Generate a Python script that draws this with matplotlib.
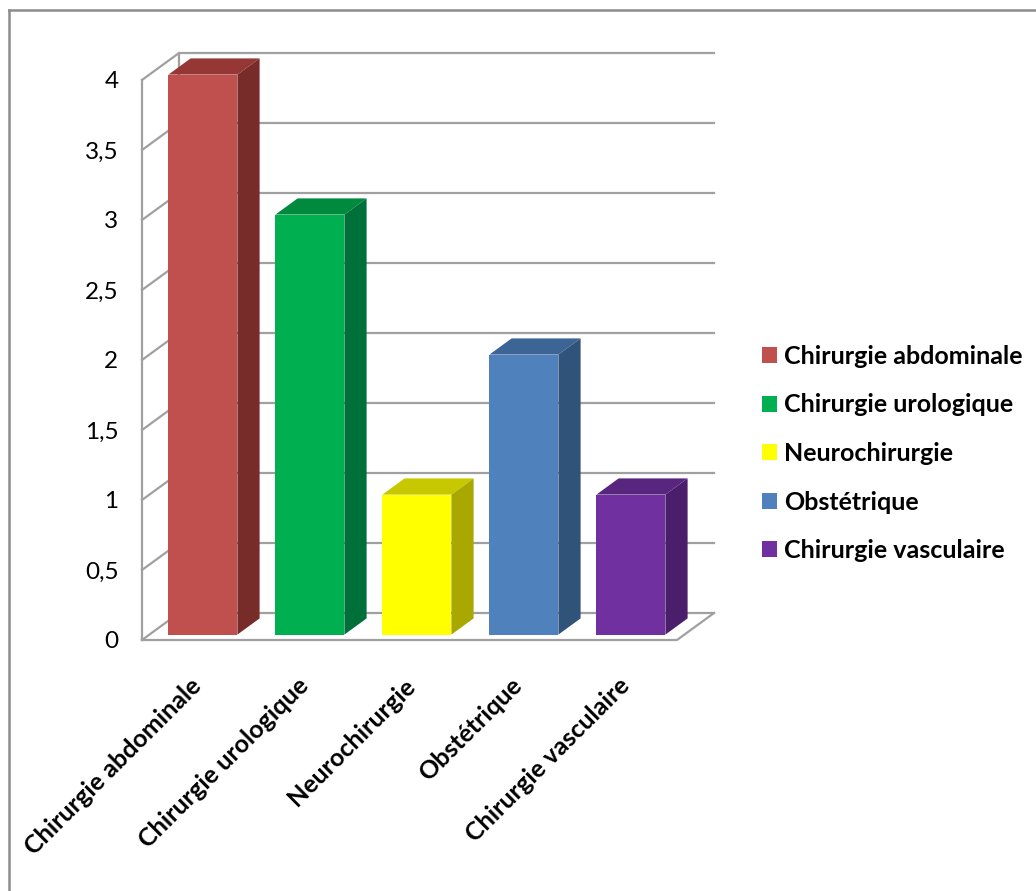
import matplotlib.pyplot as plt
from matplotlib.patches import Polygon, Patch
from matplotlib.lines import Line2D

plt.rcParams['font.family'] = ['Lato', 'DejaVu Sans']

# Chart data
categories = ['Chirurgie abdominale', 'Chirurgie urologique', 'Neurochirurgie',
              'Obstétrique', 'Chirurgie vasculaire']
values = [4, 3, 1, 2, 1]
y_ticks = [0, 0.5, 1, 1.5, 2, 2.5, 3, 3.5, 4]
y_tick_labels = ['0', '0,5', '1', '1,5', '2', '2,5', '3', '3,5', '4']

front_colors = ['#C0504D', '#00B050', '#FFFF00', '#4F81BD', '#7030A0']
top_colors = ['#953735', '#008A3E', '#C8C800', '#3C6494', '#59267F']
side_colors = ['#772C2A', '#00703A', '#A8A800', '#30537A', '#4A1E6B']

W, H = 1036, 891
fig = plt.figure(figsize=(W / 100, H / 100), dpi=100)

# front plot area: x 142..677 px, y 80..640 px
ax = fig.add_axes([142 / W, (H - 640) / H, 535 / W, 560 / H])
ax.set_xlim(0, len(categories))
ax.set_ylim(0, 4)

# depth of the 3D box in data units (37 px right, 27 px up)
dxw = 37 / 107
dyw = 27 / 140
d0, d1 = 0.2, 0.8
bar_w = 69 / 107

grid_col = '#A0A0A0'
glw = 1.6

# back wall gridlines with their diagonal on the left wall
for v in y_ticks:
    ax.plot([0, dxw, len(categories) + dxw], [v, v + dyw, v + dyw],
            color=grid_col, lw=glw, clip_on=False, zorder=1)
ax.plot([dxw, dxw], [dyw, 4 + dyw], color=grid_col, lw=glw, clip_on=False, zorder=1)
# floor and front axis
ax.plot([0, len(categories), len(categories) + dxw], [0, 0, dyw],
        color=grid_col, lw=glw, clip_on=False, zorder=1)
ax.plot([0, 0], [0, 4], color=grid_col, lw=glw, clip_on=False, zorder=1)

# bars: front faces via ax.bar, tops and sides as polygons
xs = [i + 0.5 + d0 * dxw for i in range(len(categories))]
base = d0 * dyw
ax.bar(xs, values, width=bar_w, bottom=base, color=front_colors, zorder=3,
       clip_on=False)
ddx = (d1 - d0) * dxw
ddy = (d1 - d0) * dyw
for x, v, tc, sc in zip(xs, values, top_colors, side_colors):
    xl, xr = x - bar_w / 2, x + bar_w / 2
    yt = base + v
    ax.add_patch(Polygon([(xl, yt), (xr, yt), (xr + ddx, yt + ddy), (xl + ddx, yt + ddy)],
                         closed=True, facecolor=tc, edgecolor='none', zorder=3,
                         clip_on=False))
    ax.add_patch(Polygon([(xr, base), (xr + ddx, base + ddy), (xr + ddx, yt + ddy), (xr, yt)],
                         closed=True, facecolor=sc, edgecolor='none', zorder=3,
                         clip_on=False))

# axis labels
ax.set_yticks(y_ticks)
ax.set_yticklabels(y_tick_labels, fontsize=17.5)
ax.tick_params(axis='y', length=0, pad=17)
ax.set_xticks([])
for s in ax.spines.values():
    s.set_visible(False)
ax.patch.set_visible(False)

for i, name in enumerate(categories):
    ax.text(i + 0.5 - 6 / 107, -34 / 140, name, rotation=45, rotation_mode='anchor',
            ha='right', va='top', fontsize=18, fontweight='bold', clip_on=False)

# legend
handles = [Patch(facecolor=c, edgecolor='none') for c in front_colors]
leg = fig.legend(handles, categories, loc='upper left',
                 bbox_to_anchor=(762 / W, 1 - 345 / H), frameon=False,
                 borderpad=0, borderaxespad=0,
                 prop={'size': 18, 'weight': 'bold'},
                 handlelength=0.6, handleheight=0.6, handletextpad=0.3,
                 labelspacing=1.02)

# outer border (top and left edges)
fig.add_artist(Line2D([9 / W, 1], [1 - 10 / H, 1 - 10 / H], color='#8C8C8C', lw=1.8))
fig.add_artist(Line2D([9 / W, 9 / W], [0, 1 - 10 / H], color='#8C8C8C', lw=1.8))

fig.savefig('out.png', dpi=100, facecolor='white')
